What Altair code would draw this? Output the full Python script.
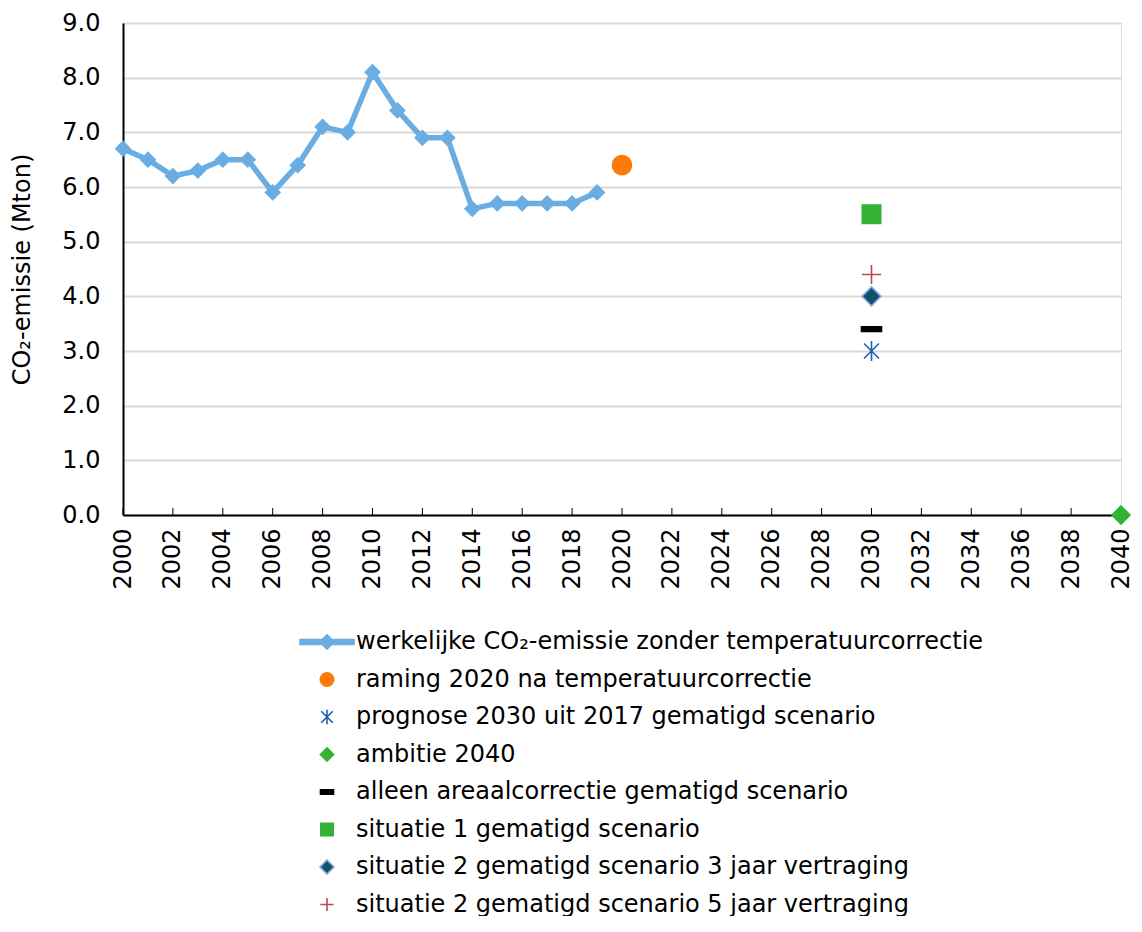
import altair as alt
import pandas as pd

# ---------------- data ----------------
years = list(range(2000, 2020))
emissie = [6.7, 6.5, 6.2, 6.3, 6.5, 6.5, 5.9, 6.4, 7.1, 7.0,
           8.1, 7.4, 6.9, 6.9, 5.6, 5.7, 5.7, 5.7, 5.7, 5.9]

series_names = [
    "werkelijke CO₂-emissie zonder temperatuurcorrectie",
    "raming 2020 na temperatuurcorrectie",
    "prognose 2030 uit 2017 gematigd scenario",
    "ambitie 2040",
    "alleen areaalcorrectie gematigd scenario",
    "situatie 1 gematigd scenario",
    "situatie 2 gematigd scenario 3 jaar vertraging",
    "situatie 2 gematigd scenario 5 jaar vertraging",
]
point_series = series_names[1:]
point_years = [2020, 2030, 2040, 2030, 2030, 2030, 2030]
point_values = [6.4, 3.0, 0.0, 3.4, 5.5, 4.0, 4.4]

tick_years = list(range(2000, 2041, 2))
y_ticks = list(range(0, 10))

# ---------------- styling ----------------
FONT = "DejaVu Sans"
LINE_BLUE = "#6AADE3"
fills = [LINE_BLUE, "#FF7A0A", "#1F5FAD", "#34B236", "#000000", "#34B236", "#10506F", "#B84A50"]
strokes = [LINE_BLUE, "#FF7A0A", "#1F5FAD", "#34B236", "#000000", "#34B236", "#8EA9DB", "#B84A50"]


def diamond(h):
    return f"M0,{-h} L{h},0 L0,{h} L{-h},0 Z"


def square(h):
    return f"M{-h},{-h} L{h},{-h} L{h},{h} L{-h},{h} Z"


def circle(r):
    return f"M{-r},0 A{r},{r} 0 1,0 {r},0 A{r},{r} 0 1,0 {-r},0 Z"


def rect(w, h):
    return f"M{-w},{-h} L{w},{-h} L{w},{h} L{-w},{h} Z"


def asterisk(a, d):
    return f"M0,{-a} L0,{a} M{-d},{-d} L{d},{d} M{-d},{d} L{d},{-d}"


def plus(a):
    return f"M0,{-a} L0,{a} M{-a},0 L{a},0"


legend_shapes = [
    rect(2.7, 0.25) + " " + diamond(0.72),
    circle(0.67),
    asterisk(0.72, 0.58),
    diamond(0.66),
    rect(0.65, 0.22),
    square(0.62),
    diamond(0.7),
    plus(0.66),
]
plot_shapes = [
    diamond(0.8),
    circle(0.95),
    asterisk(1.0, 0.75),
    diamond(0.9),
    rect(1.0, 0.24),
    square(0.92),
    diamond(0.95),
    plus(0.95),
]

line_df = pd.DataFrame({"jaar": years, "emissie": emissie})
pts_df = pd.DataFrame({"jaar": point_years, "emissie": point_values, "reeks": point_series})
ticks_df = pd.DataFrame({"jaar": tick_years})

x_scale = alt.Scale(domain=[2000, 2040], nice=False, zero=False)
y_scale = alt.Scale(domain=[0, 9], nice=False)

x_axis = alt.Axis(values=tick_years, format="d", labelAngle=270, labelPadding=13,
                  ticks=False, tickSize=0, grid=False, title=None, labelOverlap=False,
                  labelFlush=False, labelFontSize=24, labelFont=FONT, labelColor="#000000",
                  domainColor="#000000", domainWidth=2)
y_axis = alt.Axis(values=y_ticks, format=".1f", ticks=False, tickSize=0, labelPadding=23,
                  grid=True, gridColor="#D9D9D9", gridWidth=2, labelFontSize=24,
                  labelFont=FONT, labelColor="#000000", domainColor="#000000", domainWidth=2,
                  title="CO₂-emissie (Mton)", titleFont=FONT, titleFontSize=24,
                  titleFontWeight="normal", titleColor="#000000", titleX=-101,
                  titleBaseline="middle")

base_x = alt.X("jaar:Q", scale=x_scale, axis=x_axis)
base_y = alt.Y("emissie:Q", scale=y_scale, axis=y_axis)

ticks = alt.Chart(ticks_df).mark_rule(color="#000000", strokeWidth=1).encode(
    x=alt.X("jaar:Q", scale=x_scale, axis=x_axis),
    y=alt.datum(0, scale=y_scale, axis=y_axis),
    y2=alt.datum(0.128),
)

line = alt.Chart(line_df).mark_line(color=LINE_BLUE, strokeWidth=5.5, strokeCap="round",
                                    strokeJoin="round").encode(x=base_x, y=base_y)
line_pts = alt.Chart(line_df).mark_point(shape="diamond", filled=True, size=280, opacity=1,
                                         color=LINE_BLUE).encode(x=base_x, y=base_y)

plot_pts = alt.Chart(pts_df).mark_point(filled=True, size=400, opacity=1, strokeWidth=1.6).encode(
    x=base_x, y=base_y,
    shape=alt.Shape("reeks:N", scale=alt.Scale(domain=series_names, range=plot_shapes), legend=None),
    fill=alt.Fill("reeks:N", scale=alt.Scale(domain=series_names, range=fills), legend=None),
    stroke=alt.Stroke("reeks:N", scale=alt.Scale(domain=series_names, range=strokes), legend=None),
)

leg = alt.Legend(orient="none", legendX=192, legendY=607, title=None, symbolSize=400,
                 symbolStrokeWidth=1.6, labelFont=FONT, labelFontSize=24, labelColor="#000000",
                 labelLimit=1000, labelOffset=17, rowPadding=13.5, symbolOpacity=1)

legend_layer = alt.Chart(pts_df).transform_filter("false").mark_point(
    filled=True, size=400, opacity=1, strokeWidth=1.6).encode(
    x=base_x, y=base_y,
    shape=alt.Shape("reeks:N", scale=alt.Scale(domain=series_names, range=legend_shapes), legend=leg),
    fill=alt.Fill("reeks:N", scale=alt.Scale(domain=series_names, range=fills), legend=leg),
    stroke=alt.Stroke("reeks:N", scale=alt.Scale(domain=series_names, range=strokes), legend=leg),
)

chart = alt.layer(ticks, line, line_pts, plot_pts, legend_layer).resolve_scale(
    shape="independent", fill="independent", stroke="independent"
).properties(
    width=998, height=492,
    autosize=alt.AutoSizeParams(type="none"),
    padding={"left": 115, "top": 15, "right": 13, "bottom": 401},
).configure_view(stroke="#000000", strokeWidth=2).configure(background="#FFFFFF")

chart.save("out.html", embed_options={"renderer": "svg", "actions": False})
